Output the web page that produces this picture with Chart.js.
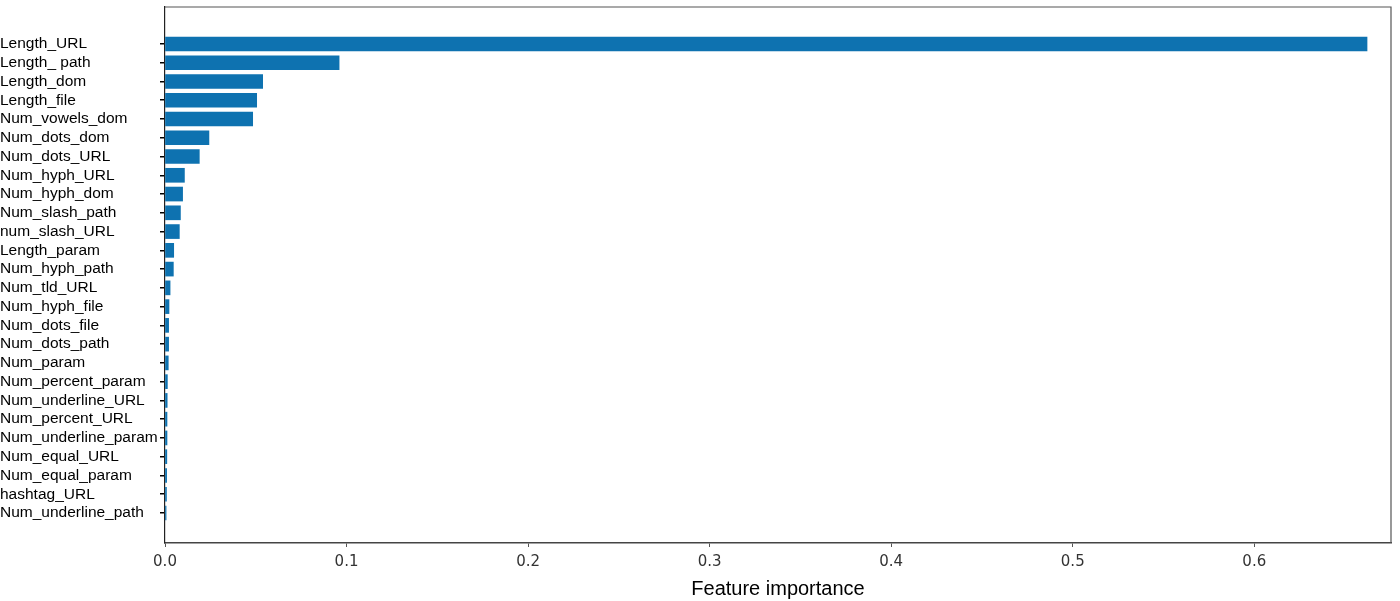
<!DOCTYPE html>
<html>
<head>
<meta charset="utf-8">
<script src="https://cdn.jsdelivr.net/npm/chart.js@4.4.1/dist/chart.umd.min.js"></script>
<style>
  html, body { margin: 0; padding: 0; background: #fff; }
  #wrap { width: 1400px; height: 601px; }
</style>
</head>
<body>
<div id="wrap"><canvas id="featureChart"></canvas></div>
<script>
// feature names, top to bottom
const featureNames = [
  "Length_URL", "Length_ path", "Length_dom", "Length_file", "Num_vowels_dom",
  "Num_dots_dom", "Num_dots_URL", "Num_hyph_URL", "Num_hyph_dom", "Num_slash_path",
  "num_slash_URL", "Length_param", "Num_hyph_path", "Num_tld_URL", "Num_hyph_file",
  "Num_dots_file", "Num_dots_path", "Num_param", "Num_percent_param", "Num_underline_URL",
  "Num_percent_URL", "Num_underline_param", "Num_equal_URL", "Num_equal_param", "hashtag_URL",
  "Num_underline_path"
];

// importance
const importances = [
  0.6621, 0.0959, 0.0538, 0.0505, 0.0483,
  0.0242, 0.0189, 0.0107, 0.0097, 0.0085,
  0.0079, 0.0048, 0.0046, 0.0028, 0.0022,
  0.0020, 0.0020, 0.0018, 0.0013, 0.0012,
  0.0011, 0.0011, 0.0010, 0.0009, 0.0008,
  0.0006
];

const xTickValues = [0, 0.1, 0.2, 0.3, 0.4, 0.5, 0.6];

// top and right edges of the frame
const framePlugin = {
  id: "frame",
  afterDraw(chart) {
    const { ctx, chartArea: a } = chart;
    ctx.save();
    ctx.strokeStyle = "#555";
    ctx.lineWidth = 1.2;
    ctx.beginPath();
    ctx.moveTo(a.left, a.top);
    ctx.lineTo(a.right, a.top);
    ctx.lineTo(a.right, a.bottom);
    ctx.stroke();
    ctx.restore();
  },
};

const ctx = document.getElementById("featureChart").getContext("2d");
new Chart(ctx, {
  type: "bar",
  data: {
    datasets: [
      {
        data: importances.map((v, i) => ({ x: v, y: i })),
        backgroundColor: "#0e72b0",
        barThickness: 14,
      },
    ],
  },
  options: {
    indexAxis: "y",
    responsive: true,
    maintainAspectRatio: false,
    animation: false,
    layout: { padding: { top: 7, right: 9, left: 0, bottom: 0 } },
    plugins: {
      legend: { display: false },
      tooltip: { enabled: false },
    },
    scales: {
      x: {
        type: "linear",
        position: "bottom",
        min: 0,
        max: 0.6753,
        afterBuildTicks(scale) {
          scale.ticks = xTickValues.map((v) => ({ value: v }));
        },
        afterFit(scale) {
          scale.height = 58;
          scale.paddingLeft = 0;
          scale.paddingRight = 0;
        },
        ticks: {
          callback: (v) => Number(v).toFixed(1),
          font: { family: "DejaVu Sans", size: 15 },
          color: "#333",
          padding: 6,
          maxRotation: 0,
          autoSkip: false,
        },
        grid: { drawOnChartArea: false, drawTicks: true, tickLength: 4, color: "#555" },
        border: { display: true, color: "#444", width: 1.5 },
        title: {
          display: true,
          text: "Feature importance",
          font: { family: "Liberation Sans", size: 20 },
          color: "#000",
          padding: { top: 0, bottom: 0 },
        },
      },
      y: {
        type: "linear",
        reverse: true,
        offset: false,
        min: -1.97,
        max: 26.6,
        afterBuildTicks(scale) {
          scale.ticks = featureNames.map((_, i) => ({ value: i }));
        },
        afterFit(scale) {
          scale.width = 165;
          scale.paddingTop = 0;
          scale.paddingBottom = 0;
        },
        ticks: {
          callback: (v) => featureNames[v],
          autoSkip: false,
          crossAlign: "far",
          font: { family: "Liberation Sans", size: 15.5 },
          color: "#000",
          padding: 3,
        },
        grid: { offset: false, drawOnChartArea: false, tickLength: 5, color: "#000", lineWidth: 1.5 },
        border: { display: true, color: "#222", width: 1.2 },
      },
    },
  },
  plugins: [framePlugin],
});
</script>
</body>
</html>
